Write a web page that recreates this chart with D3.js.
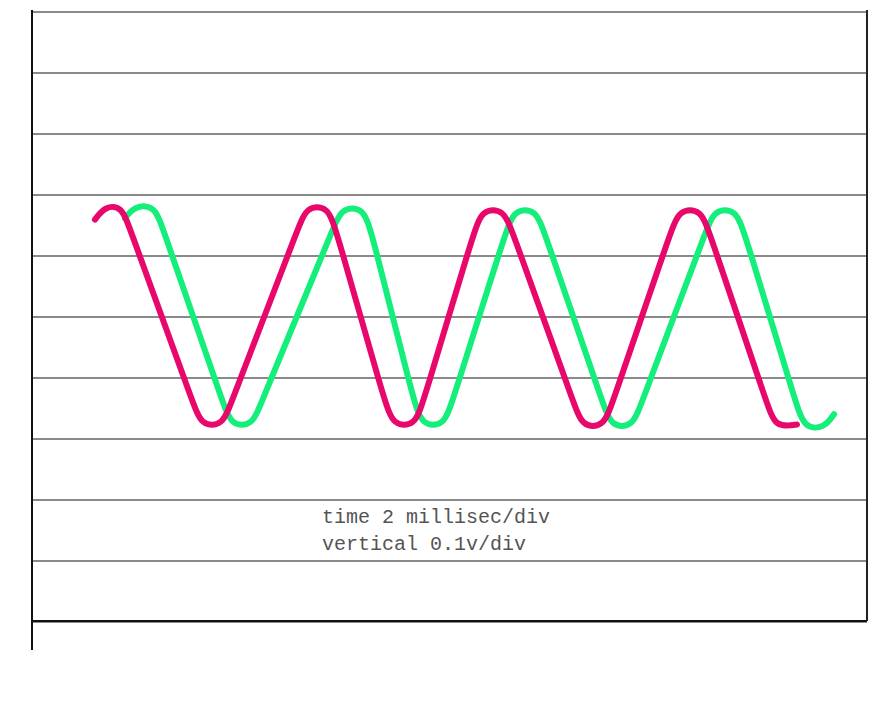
<!DOCTYPE html>
<html>
<head>
<meta charset="utf-8">
<script src="https://d3js.org/d3.v7.min.js"></script>
<style>
  body { margin: 0; background: #fff; }
  svg { display: block; }
  .grid line { stroke: #8a8a8a; stroke-width: 2; shape-rendering: crispEdges; }
  .grid path { display: none; }
  .trace { fill: none; stroke-width: 6; stroke-linecap: round; stroke-linejoin: round; }
  .note { font-family: 'Liberation Mono', 'DejaVu Sans Mono', monospace; font-size: 20px; fill: #555; }
</style>
</head>
<body>
<div id="scope"></div>
<script>

  /*--- scope settings: 2 ms per division, 0.1 V per division ---*/
  var timeRange = [0, 27.33],          // ms across the screen
      voltRange = [-0.5, 0.5],         // volts, 10 divisions
      gridVolts = [-0.5, -0.4, -0.3, -0.2, -0.1, 0, 0.1, 0.2, 0.3, 0.4, 0.5],
      noteLines = ["time 2 millisec/div", "vertical 0.1v/div"];

  /*--- traces: [ms, volts] ---*/
  var traceMagenta = [
    [2.06, 0.158], [2.39, 0.180], [2.95, 0.180], [3.22, 0.140],
    [5.26, -0.140], [5.53, -0.180], [6.25, -0.180], [6.53, -0.140],
    [8.69, 0.140], [8.97, 0.180], [9.69, 0.180], [9.96, 0.140],
    [11.54, -0.140], [11.82, -0.180], [12.54, -0.180], [12.81, -0.140],
    [14.46, 0.137], [14.73, 0.175], [15.45, 0.175], [15.73, 0.137],
    [17.73, -0.142], [18.00, -0.182], [18.72, -0.182], [19.00, -0.142],
    [20.90, 0.137], [21.18, 0.175], [21.90, 0.175], [22.17, 0.137],
    [24.05, -0.142], [24.32, -0.183], [25.04, -0.178]
  ];

  var traceGreen = [
    [3.04, 0.160], [3.37, 0.181], [4.03, 0.181], [4.30, 0.140],
    [6.24, -0.140], [6.51, -0.180], [7.23, -0.180], [7.51, -0.140],
    [9.84, 0.140], [10.12, 0.178], [10.84, 0.178], [11.11, 0.140],
    [12.49, -0.140], [12.77, -0.180], [13.49, -0.180], [13.76, -0.140],
    [15.50, 0.137], [15.78, 0.175], [16.50, 0.175], [16.77, 0.137],
    [18.68, -0.142], [18.95, -0.182], [19.67, -0.182], [19.95, -0.142],
    [22.05, 0.137], [22.32, 0.175], [23.04, 0.175], [23.32, 0.137],
    [25.00, -0.142], [25.27, -0.184], [25.93, -0.184], [26.25, -0.161]
  ];

  /*--- page setup ---*/
  var svgW = 888, svgH = 724,
      plotL = 32, plotR = 867, plotT = 11, plotB = 621;

  var svg = d3.select("#scope").append("svg")
      .attr("width", svgW)
      .attr("height", svgH);

  var x = d3.scaleLinear().domain(timeRange).range([plotL, plotR]),
      y = d3.scaleLinear().domain(voltRange).range([plotB, plotT]);

  /*--- horizontal divisions ---*/
  svg.append("g")
    .attr("class", "grid")
    .attr("transform", "translate(" + plotL + ",0)")
    .call(d3.axisLeft(y).tickValues(gridVolts).tickSize(-(plotR - plotL)).tickFormat(""));

  // frame: dark bottom, right edge and the long left edge
  svg.append("line")
    .attr("x1", plotL).attr("x2", plotR)
    .attr("y1", y(voltRange[0])).attr("y2", y(voltRange[0]))
    .attr("stroke", "#111").attr("stroke-width", 2);
  svg.append("line")
    .attr("x1", plotR).attr("x2", plotR)
    .attr("y1", y(voltRange[1]) - 1).attr("y2", y(voltRange[0]))
    .attr("stroke", "#222").attr("stroke-width", 2);
  svg.append("line")
    .attr("x1", plotL).attr("x2", plotL)
    .attr("y1", y(voltRange[1]) - 1).attr("y2", y(voltRange[0]) + 29)
    .attr("stroke", "#111").attr("stroke-width", 2);

  /*--- traces ---*/
  var line = d3.line()
      .x(function(d) { return x(d[0]); })
      .y(function(d) { return y(d[1]); })
      .curve(d3.curveBasis);

  svg.append("path")
    .datum(traceGreen)
    .attr("class", "trace")
    .attr("stroke", "#14ee7a")
    .attr("d", line);

  svg.append("path")
    .datum(traceMagenta)
    .attr("class", "trace")
    .attr("stroke", "#e8086c")
    .attr("d", line);

  /*--- scale note ---*/
  svg.selectAll("text.note")
    .data(noteLines)
    .enter()
    .append("text")
    .attr("class", "note")
    .attr("x", x(9.49))
    .attr("y", function(d, i) { return y(-0.34) + i * 27; })
    .text(function(d) { return d; });

</script>
</body>
</html>
